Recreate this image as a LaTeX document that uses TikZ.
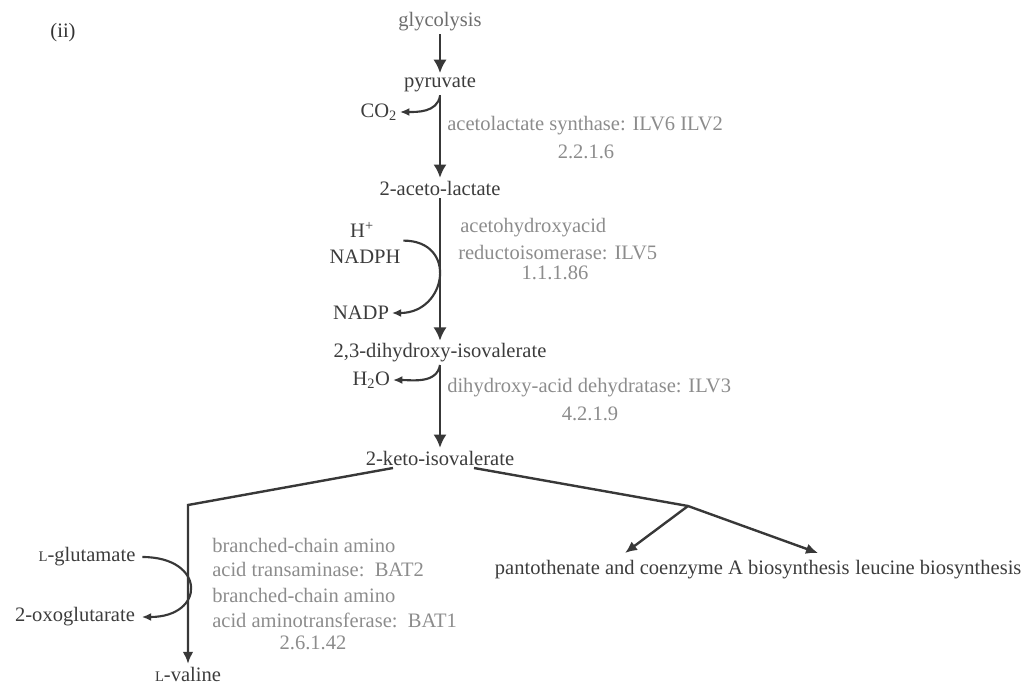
\documentclass[tikz,border=0pt]{standalone}
\usepackage{fontspec}
\setmainfont{Liberation Serif}
\usetikzlibrary{arrows.meta,positioning}
\definecolor{metab}{HTML}{3C3C3C}
\definecolor{enzyme}{HTML}{8C8C8C}
\definecolor{flow}{HTML}{383838}
\newcommand{\Lsc}{{\fontsize{11}{11}\selectfont L}}

\begin{document}
\begin{tikzpicture}[x=0.75pt,y=-0.75pt,
  met/.style={font=\fontsize{15.4}{18}\selectfont,text=metab,inner sep=2pt},
  enz/.style={font=\fontsize{15.4}{18}\selectfont,text=enzyme,inner sep=0pt},
  main/.style={flow,line width=2.2pt,-{Latex[length=10pt,width=10pt]}},
  side/.style={flow,line width=1.6pt,-{Latex[length=7pt,width=6pt]}},
  branch/.style={flow,line width=1.8pt,-{Latex[length=9pt,width=8pt]}}]
  \useasboundingbox (0,0) rectangle (1030,685);
  % metabolites
  \node[met,text=black!80] (ii) at (63,33) {(ii)};
  \node[met,text=metab!75] (glyc) at (440,22) {glycolysis};
  \node[met] (pyr) at (440,84) {pyruvate};
  \node[met] (acl) at (440,188) {2-aceto-lactate};
  \node[met] (dhiv) at (440,353) {2,3-dihydroxy-isovalerate};
  \node[met] (kiv) at (440,458) {2-keto-isovalerate};
  \node[met] (val) at (188,674) {\Lsc-valine};
  \node[met,anchor=east] (co2) at (400,112) {CO\textsubscript{2}};
  \node[met] (hplus) at (362,230) {H\textsuperscript{+}};
  \node[met] (nadph) at (365,257) {NADPH};
  \node[met] (nadp) at (361,313) {NADP};
  \node[met,anchor=east] (h2o) at (393,380) {H\textsubscript{2}O};
  \node[met] (glu) at (87,557) {\Lsc-glutamate};
  \node[met] (oxo) at (75,617) {2-oxoglutarate};
  \node[met,anchor=west] (pant) at (492,570) {pantothenate and coenzyme A biosynthesis};
  \node[met,right=0pt of pant] (leu) {leucine biosynthesis};
  % enzymes
  \node[enz,anchor=west] (ilv62) at (447,126) {acetolactate synthase: ILV6 ILV2};
  \node[enz] (ec1) at (586,152) {2.2.1.6};
  \node[enz,anchor=west] (ilv5a) at (460,228) {acetohydroxyacid};
  \node[enz,anchor=west] (ilv5b) at (458,253) {reductoisomerase: ILV5};
  \node[enz] (ec2) at (555,273) {1.1.1.86};
  \node[enz,anchor=west] (ilv3) at (447,388) {dihydroxy-acid dehydratase: ILV3};
  \node[enz] (ec3) at (590,414) {4.2.1.9};
  \node[enz,anchor=west] (bat2a) at (212,545) {branched-chain amino};
  \node[enz,anchor=west] (bat2b) at (212,570) {acid transaminase:\ \ BAT2};
  \node[enz,anchor=west] (bat1a) at (212,595) {branched-chain amino};
  \node[enz,anchor=west] (bat1b) at (212,620) {acid aminotransferase:\ \ BAT1};
  \node[enz] (ec4) at (313,643) {2.6.1.42};
  % branch points
  \coordinate (co2fork) at (440,96);
  \coordinate (h2ofork) at (440,365);
  \coordinate (kivL) at (393,468);
  \coordinate (valbend) at (188,505);
  \coordinate (kivR) at (474,468);
  \coordinate (fork) at (688,506);
  \coordinate (pantend) at (625,553);
  \coordinate (leuend) at (818,553);
  % main chain
  \draw[main] (glyc) -- (pyr);
  \draw[main] (pyr) -- (acl);
  \draw[main] (acl) -- (dhiv);
  \draw[main] (dhiv) -- (kiv);
  % side reactions
  \draw[side] (co2fork) to[out=-100,in=0] (co2.east);
  \draw[side] ([yshift=5pt]nadph.north east) .. controls +(55,0) and +(55,0) .. (nadp.east);
  \draw[side] (h2ofork) to[out=-100,in=0] (h2o.east);
  \draw[side] ([xshift=3pt]glu.east) .. controls +(64,0) and +(64,0) .. ([xshift=3pt]oxo.east);
  % branches
  \draw[branch] (kivL) -- (valbend) -- (val);
  \draw[branch] (kivR) -- (fork) -- (leuend);
  \draw[branch] (fork) -- (pantend);
\end{tikzpicture}
\end{document}
